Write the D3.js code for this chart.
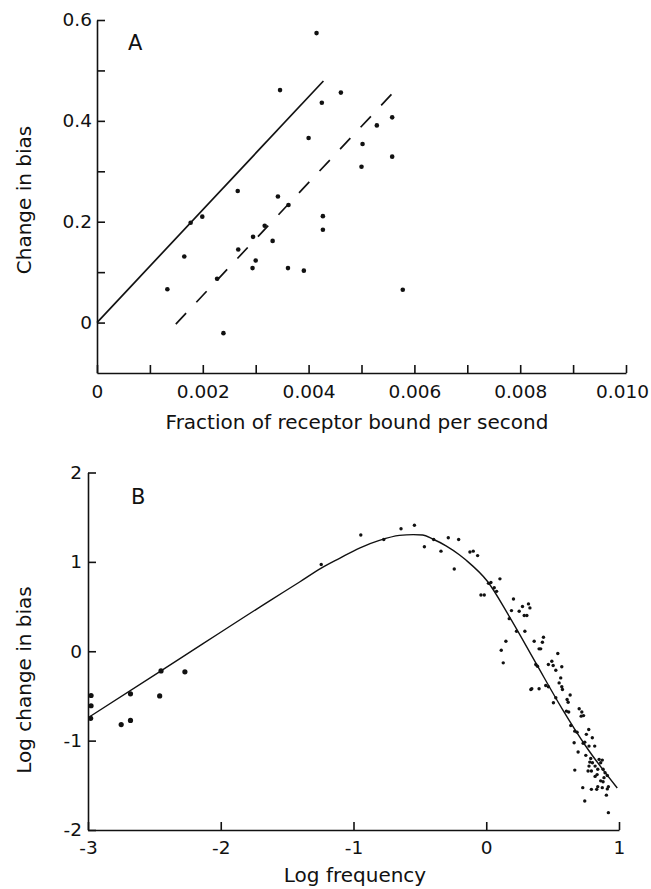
<!DOCTYPE html>
<html>
<head>
<meta charset="utf-8">
<script src="https://cdn.jsdelivr.net/npm/d3@7"></script>
<style>
  body { margin: 0; background: #fff; }
  svg text { font-family: "DejaVu Sans", sans-serif; fill: #111; }
  .axis path, .axis line { stroke: #111; stroke-width: 1.6; }
  .axis text { font-size: 18.5px; }
</style>
</head>
<body>
<div id="chart"></div>
<script>
// ---- panel A data ----
var aX = [0.00415, 0.00346, 0.00461, 0.00425, 0.00400, 0.00266, 0.00342, 0.00362, 0.00199, 0.00177,
          0.00427, 0.00427, 0.00317, 0.00295, 0.00332, 0.00267, 0.00165, 0.00300, 0.00294, 0.00361,
          0.00391, 0.00227, 0.00133, 0.00239, 0.00558, 0.00529, 0.00502, 0.00558, 0.00500, 0.00578];
var aY = [0.574, 0.461, 0.456, 0.436, 0.366, 0.261, 0.250, 0.233, 0.210, 0.198,
          0.211, 0.184, 0.192, 0.170, 0.162, 0.145, 0.131, 0.123, 0.108, 0.108,
          0.103, 0.087, 0.066, -0.021, 0.407, 0.391, 0.354, 0.329, 0.309, 0.065];
var aSolid = [[0, 0], [0.00428, 0.479]];
var aDashed = [[0.00149, -0.003], [0.00575, 0.473]];
var aXTicks = [0, 0.001, 0.002, 0.003, 0.004, 0.005, 0.006, 0.007, 0.008, 0.009, 0.010];
var aXLabels = ["0", "", "0.002", "", "0.004", "", "0.006", "", "0.008", "", "0.010"];
var aYTicks = [0, 0.1, 0.2, 0.3, 0.4, 0.5, 0.6];
var aYLabels = ["0", "", "0.2", "", "0.4", "", "0.6"];

// ---- panel B data ----
var bLowX = [-2.977, -2.977, -2.98, -2.68, -2.68, -2.75, -2.45, -2.46, -2.27];
var bLowY = [-0.495, -0.61, -0.75, -0.476, -0.774, -0.82, -0.22, -0.50, -0.23];
var bHigh = [[-1.243,0.97],[-0.945,1.30],[-0.772,1.25],[-0.642,1.37],[-0.541,1.41],[-0.466,1.17],[-0.396,1.25],
  [-0.341,1.12],[-0.286,1.27],[-0.241,0.92],[-0.208,1.25],[-0.123,1.11],[-0.098,1.12],[-0.065,1.07],
  [0.017,0.76],[0.035,0.77],[0.103,0.81],[0.06,0.71],[0.078,0.67],[-0.04,0.63],[-0.015,0.63],[0.205,0.585],
  [0.19,0.455],[0.248,0.447],[0.273,0.50],[0.318,0.53],[0.329,0.485],[0.286,0.40],[0.306,0.40],[0.173,0.365],
  [0.228,0.223],[0.291,0.223],[0.148,0.112],[0.113,0.011],[0.128,-0.13],[0.361,0.112],[0.431,0.156],[0.423,0.10],
  [0.398,0.027],[0.41,0.027],[0.539,-0.026],[0.373,-0.149],[0.386,-0.168],[0.468,-0.149],[0.494,-0.112],[0.504,-0.16],
  [0.569,-0.174],[0.524,-0.212],[0.561,-0.298],[0.549,-0.354],[0.448,-0.383],[0.468,-0.398],[0.336,-0.428],[0.343,-0.42],
  [0.398,-0.42],[0.569,-0.398],[0.574,-0.428],[0.632,-0.49],[0.524,-0.52],[0.506,-0.577],[0.609,-0.54],[0.617,-0.57],
  [0.604,-0.67],[0.621,-0.68],[0.70,-0.644],[0.72,-0.68],[0.733,-0.72],[0.715,-0.726],[0.637,-0.83],[0.667,-0.894],
  [0.684,-0.905],[0.754,-0.93],[0.772,-0.875],[0.662,-1.023],[0.73,-1.03],[0.742,-1.017],[0.799,-0.968],[0.817,-1.061],
  [0.774,-1.061],[0.692,-1.128],[0.75,-1.165],[0.787,-1.20],[0.78,-1.24],[0.80,-1.247],[0.85,-1.21],[0.862,-1.247],
  [0.874,-1.218],[0.667,-1.33],[0.774,-1.285],[0.767,-1.34],[0.792,-1.34],[0.82,-1.285],[0.84,-1.32],[0.835,-1.38],
  [0.82,-1.40],[0.88,-1.32],[0.895,-1.36],[0.912,-1.39],[0.887,-1.414],[0.862,-1.45],[0.88,-1.46],[0.727,-1.526],
  [0.792,-1.545],[0.832,-1.545],[0.84,-1.515],[0.874,-1.526],[0.912,-1.54],[0.92,-1.515],[0.905,-1.61],[0.742,-1.676],
  [0.92,-1.806]];
var bCurveX = [-2.985, -2.45, -1.617, -1.406, -1.243, -1.105, -0.955, -0.805, -0.654, -0.55, -0.479, -0.404,
               -0.303, -0.203, -0.153, 0.01, 0.173, 0.373, 0.574, 0.749, 0.987];
var bCurveY = [-0.73, -0.22, 0.578, 0.775, 0.93, 1.04, 1.155, 1.24, 1.296, 1.305, 1.30, 1.256,
               1.18, 1.08, 1.02, 0.78, 0.39, -0.13, -0.65, -1.06, -1.53];
var bXTicks = [-3, -2, -1, 0, 1];
var bXLabels = ["-3", "-2", "-1", "0", "1"];
var bYTicks = [-2, -1, 0, 1, 2];
var bYLabels = ["-2", "-1", "0", "1", "2"];

var svg = d3.select("#chart").append("svg")
    .attr("width", 651)
    .attr("height", 889);

// ===== panel A =====
var xA = d3.scaleLinear().domain([0, 0.010]).range([97, 626]);
var yA = d3.scaleLinear().domain([-0.1, 0.6]).range([373, 20]);

var xAxisA = svg.append("g")
    .attr("class", "axis")
    .attr("transform", "translate(0," + yA(-0.1) + ")")
    .call(d3.axisBottom(xA).tickValues(aXTicks)
        .tickFormat(function(d, i){ return aXLabels[i]; })
        .tickSizeInner(-8).tickSizeOuter(0).tickPadding(12));
// keep the last label inside the page
xAxisA.selectAll(".tick text").filter(function(d){ return d === 0.010; }).attr("dx", -4);

svg.append("g")
    .attr("class", "axis")
    .attr("transform", "translate(" + xA(0) + ",0)")
    .call(d3.axisLeft(yA).tickValues(aYTicks)
        .tickFormat(function(d, i){ return aYLabels[i]; })
        .tickSizeInner(-8).tickSizeOuter(0).tickPadding(5));

var lineA = d3.line().x(function(d){ return xA(d[0]); }).y(function(d){ return yA(d[1]); });

svg.append("path").datum(aSolid)
    .attr("d", lineA)
    .attr("fill", "none").attr("stroke", "#111").attr("stroke-width", 1.7);

svg.append("path").datum(aDashed)
    .attr("d", lineA)
    .attr("fill", "none").attr("stroke", "#111").attr("stroke-width", 1.7)
    .attr("stroke-dasharray", "15,15");

svg.selectAll(".dotA")
    .data(aX)
    .enter()
    .append("circle")
    .attr("class", "dotA")
    .attr("cx", function(d){ return xA(d); })
    .attr("cy", function(d, i){ return yA(aY[i]); })
    .attr("r", 2.3)
    .attr("fill", "#111");

svg.append("text").attr("x", 128).attr("y", 50).style("font-size", "21px").text("A");

svg.append("text")
    .attr("x", 357).attr("y", 429)
    .attr("text-anchor", "middle")
    .style("font-size", "20px")
    .text("Fraction of receptor bound per second");

svg.append("text")
    .attr("transform", "translate(31,200) rotate(-90)")
    .attr("text-anchor", "middle")
    .style("font-size", "20px")
    .text("Change in bias");

// ===== panel B =====
var xB = d3.scaleLinear().domain([-3, 1]).range([88, 619]);
var yB = d3.scaleLinear().domain([-2, 2]).range([830, 472.5]);

svg.append("g")
    .attr("class", "axis")
    .attr("transform", "translate(0," + yB(-2) + ")")
    .call(d3.axisBottom(xB).tickValues(bXTicks)
        .tickFormat(function(d, i){ return bXLabels[i]; })
        .tickSizeInner(-8).tickSizeOuter(0).tickPadding(11));

svg.append("g")
    .attr("class", "axis")
    .attr("transform", "translate(" + xB(-3) + ",0)")
    .call(d3.axisLeft(yB).tickValues(bYTicks)
        .tickFormat(function(d, i){ return bYLabels[i]; })
        .tickSizeInner(-8).tickSizeOuter(0).tickPadding(6));

var curveB = d3.line()
    .x(function(d){ return xB(d); })
    .y(function(d, i){ return yB(bCurveY[i]); })
    .curve(d3.curveMonotoneX);

svg.append("path").datum(bCurveX)
    .attr("d", curveB)
    .attr("fill", "none").attr("stroke", "#111").attr("stroke-width", 1.4);

svg.selectAll(".dotBLow")
    .data(bLowX)
    .enter()
    .append("circle")
    .attr("class", "dotBLow")
    .attr("cx", function(d){ return xB(d); })
    .attr("cy", function(d, i){ return yB(bLowY[i]); })
    .attr("r", 2.6)
    .attr("fill", "#111");

svg.selectAll(".dotBHigh")
    .data(bHigh)
    .enter()
    .append("circle")
    .attr("class", "dotBHigh")
    .attr("cx", function(d){ return xB(d[0]); })
    .attr("cy", function(d){ return yB(d[1]); })
    .attr("r", 1.7)
    .attr("fill", "#111");

svg.append("text").attr("x", 131).attr("y", 504).style("font-size", "21px").text("B");

svg.append("text")
    .attr("x", 355).attr("y", 882)
    .attr("text-anchor", "middle")
    .style("font-size", "20px")
    .text("Log frequency");

svg.append("text")
    .attr("transform", "translate(31,680) rotate(-90)")
    .attr("text-anchor", "middle")
    .style("font-size", "20px")
    .text("Log change in bias");
</script>
</body>
</html>
